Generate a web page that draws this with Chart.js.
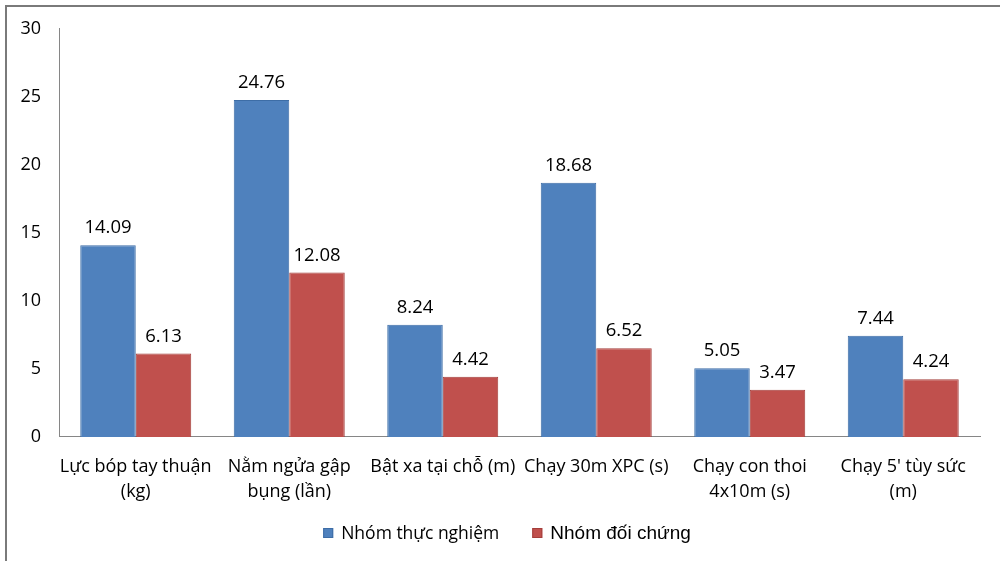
<!DOCTYPE html>
<html>
<head>
<meta charset="utf-8">
<script src="https://cdn.jsdelivr.net/npm/chart.js@4"></script>
<style>
  html, body { margin: 0; padding: 0; background: #fff; overflow: hidden; }
  #wrap { position: relative; width: 1000px; height: 561px; }
</style>
</head>
<body>
<div id="wrap"><canvas id="c" width="1000" height="561"></canvas></div>
<script>
const categories = [
  ['Lực bóp tay thuận', '(kg)'],
  ['Nằm ngửa gập', 'bụng (lần)'],
  'Bật xa tại chỗ (m)',
  'Chạy 30m XPC (s)',
  ['Chạy con thoi', '4x10m (s)'],
  ["Chạy 5' tùy sức", '(m)']
];
const experimentalGroup = [14.09, 24.76, 8.24, 18.68, 5.05, 7.44];
const controlGroup = [6.13, 12.08, 4.42, 6.52, 3.47, 4.24];
const seriesNames = ['Nhóm thực nghiệm', 'Nhóm đối chứng'];
const yTicks = [0, 5, 10, 15, 20, 25, 30];

const FONT = 'Open Sans, Liberation Sans, sans-serif';
const LEGEND_FONTS = ['17.5px ' + FONT, '19px Liberation Sans, Arial, sans-serif'];

// frame around the chart (top and left edges visible)
const framePlugin = {
  id: 'frame',
  beforeDraw(chart) {
    const ctx = chart.ctx;
    ctx.save();
    ctx.fillStyle = '#ffffff';
    ctx.fillRect(0, 0, chart.width, chart.height);
    ctx.strokeStyle = '#7a7a7a';
    ctx.lineWidth = 2;
    ctx.strokeRect(6, 6, chart.width + 20, chart.height + 20);
    ctx.restore();
  }
};

// value labels above each bar
const valueLabels = {
  id: 'valueLabels',
  afterDatasetsDraw(chart) {
    const ctx = chart.ctx;
    ctx.save();
    ctx.font = '18.5px ' + FONT;
    ctx.fillStyle = '#000';
    ctx.textAlign = 'center';
    ctx.textBaseline = 'bottom';
    chart.data.datasets.forEach((ds, i) => {
      chart.getDatasetMeta(i).data.forEach((bar, j) => {
        ctx.fillText(ds.data[j].toFixed(2), bar.x, bar.y - 8);
      });
    });
    ctx.restore();
  }
};

// series key below the axis labels, one font per entry
const seriesKey = {
  id: 'seriesKey',
  afterDraw(chart) {
    const ctx = chart.ctx;
    const box = 10, textGap = 8, itemGap = 33;
    ctx.save();
    const widths = chart.data.datasets.map((ds, i) => {
      ctx.font = LEGEND_FONTS[i];
      return box + textGap + ctx.measureText(ds.label).width;
    });
    const total = widths.reduce((a, b) => a + b, 0) + itemGap * (widths.length - 1);
    let x = 507 - total / 2;
    const cy = chart.height - 28;
    chart.data.datasets.forEach((ds, i) => {
      ctx.fillStyle = ds.backgroundColor;
      ctx.fillRect(x, cy - box / 2, box, box);
      ctx.strokeStyle = ds.borderColor;
      ctx.lineWidth = 1;
      ctx.strokeRect(x + 0.5, cy - box / 2 + 0.5, box - 1, box - 1);
      ctx.font = LEGEND_FONTS[i];
      ctx.fillStyle = '#000';
      ctx.textAlign = 'left';
      ctx.textBaseline = 'middle';
      ctx.fillText(ds.label, x + box + textGap, cy + 1);
      x += widths[i] + itemGap;
    });
    ctx.restore();
  }
};

new Chart(document.getElementById('c'), {
  type: 'bar',
  data: {
    labels: categories,
    datasets: [
      {
        label: seriesNames[0],
        data: experimentalGroup,
        backgroundColor: '#4F81BD',
        borderColor: '#3D6DA6',
        borderWidth: 1
      },
      {
        label: seriesNames[1],
        data: controlGroup,
        backgroundColor: '#C0504D',
        borderColor: '#A43E3B',
        borderWidth: 1
      }
    ]
  },
  options: {
    responsive: false,
    animation: false,
    events: [],
    categoryPercentage: 0.723,
    barPercentage: 1.0,
    layout: { padding: { top: 22, left: 14, right: 20, bottom: 40 } },
    plugins: {
      legend: { display: false },
      tooltip: { enabled: false }
    },
    scales: {
      x: {
        grid: { display: false, drawTicks: false },
        border: { color: '#868686', width: 1 },
        ticks: {
          color: '#000',
          font: { family: FONT, size: 18, lineHeight: 1.39 },
          padding: 17,
          maxRotation: 0,
          autoSkip: false
        }
      },
      y: {
        min: 0,
        max: 30,
        afterBuildTicks(axis) { axis.ticks = yTicks.map(v => ({ value: v })); },
        afterFit(axis) { axis.width = 45; },
        grid: { display: false, drawTicks: false },
        border: { color: '#868686', width: 1 },
        ticks: {
          color: '#000',
          font: { family: FONT, size: 18 },
          padding: 18
        }
      }
    }
  },
  plugins: [framePlugin, valueLabels, seriesKey]
});
</script>
</body>
</html>
